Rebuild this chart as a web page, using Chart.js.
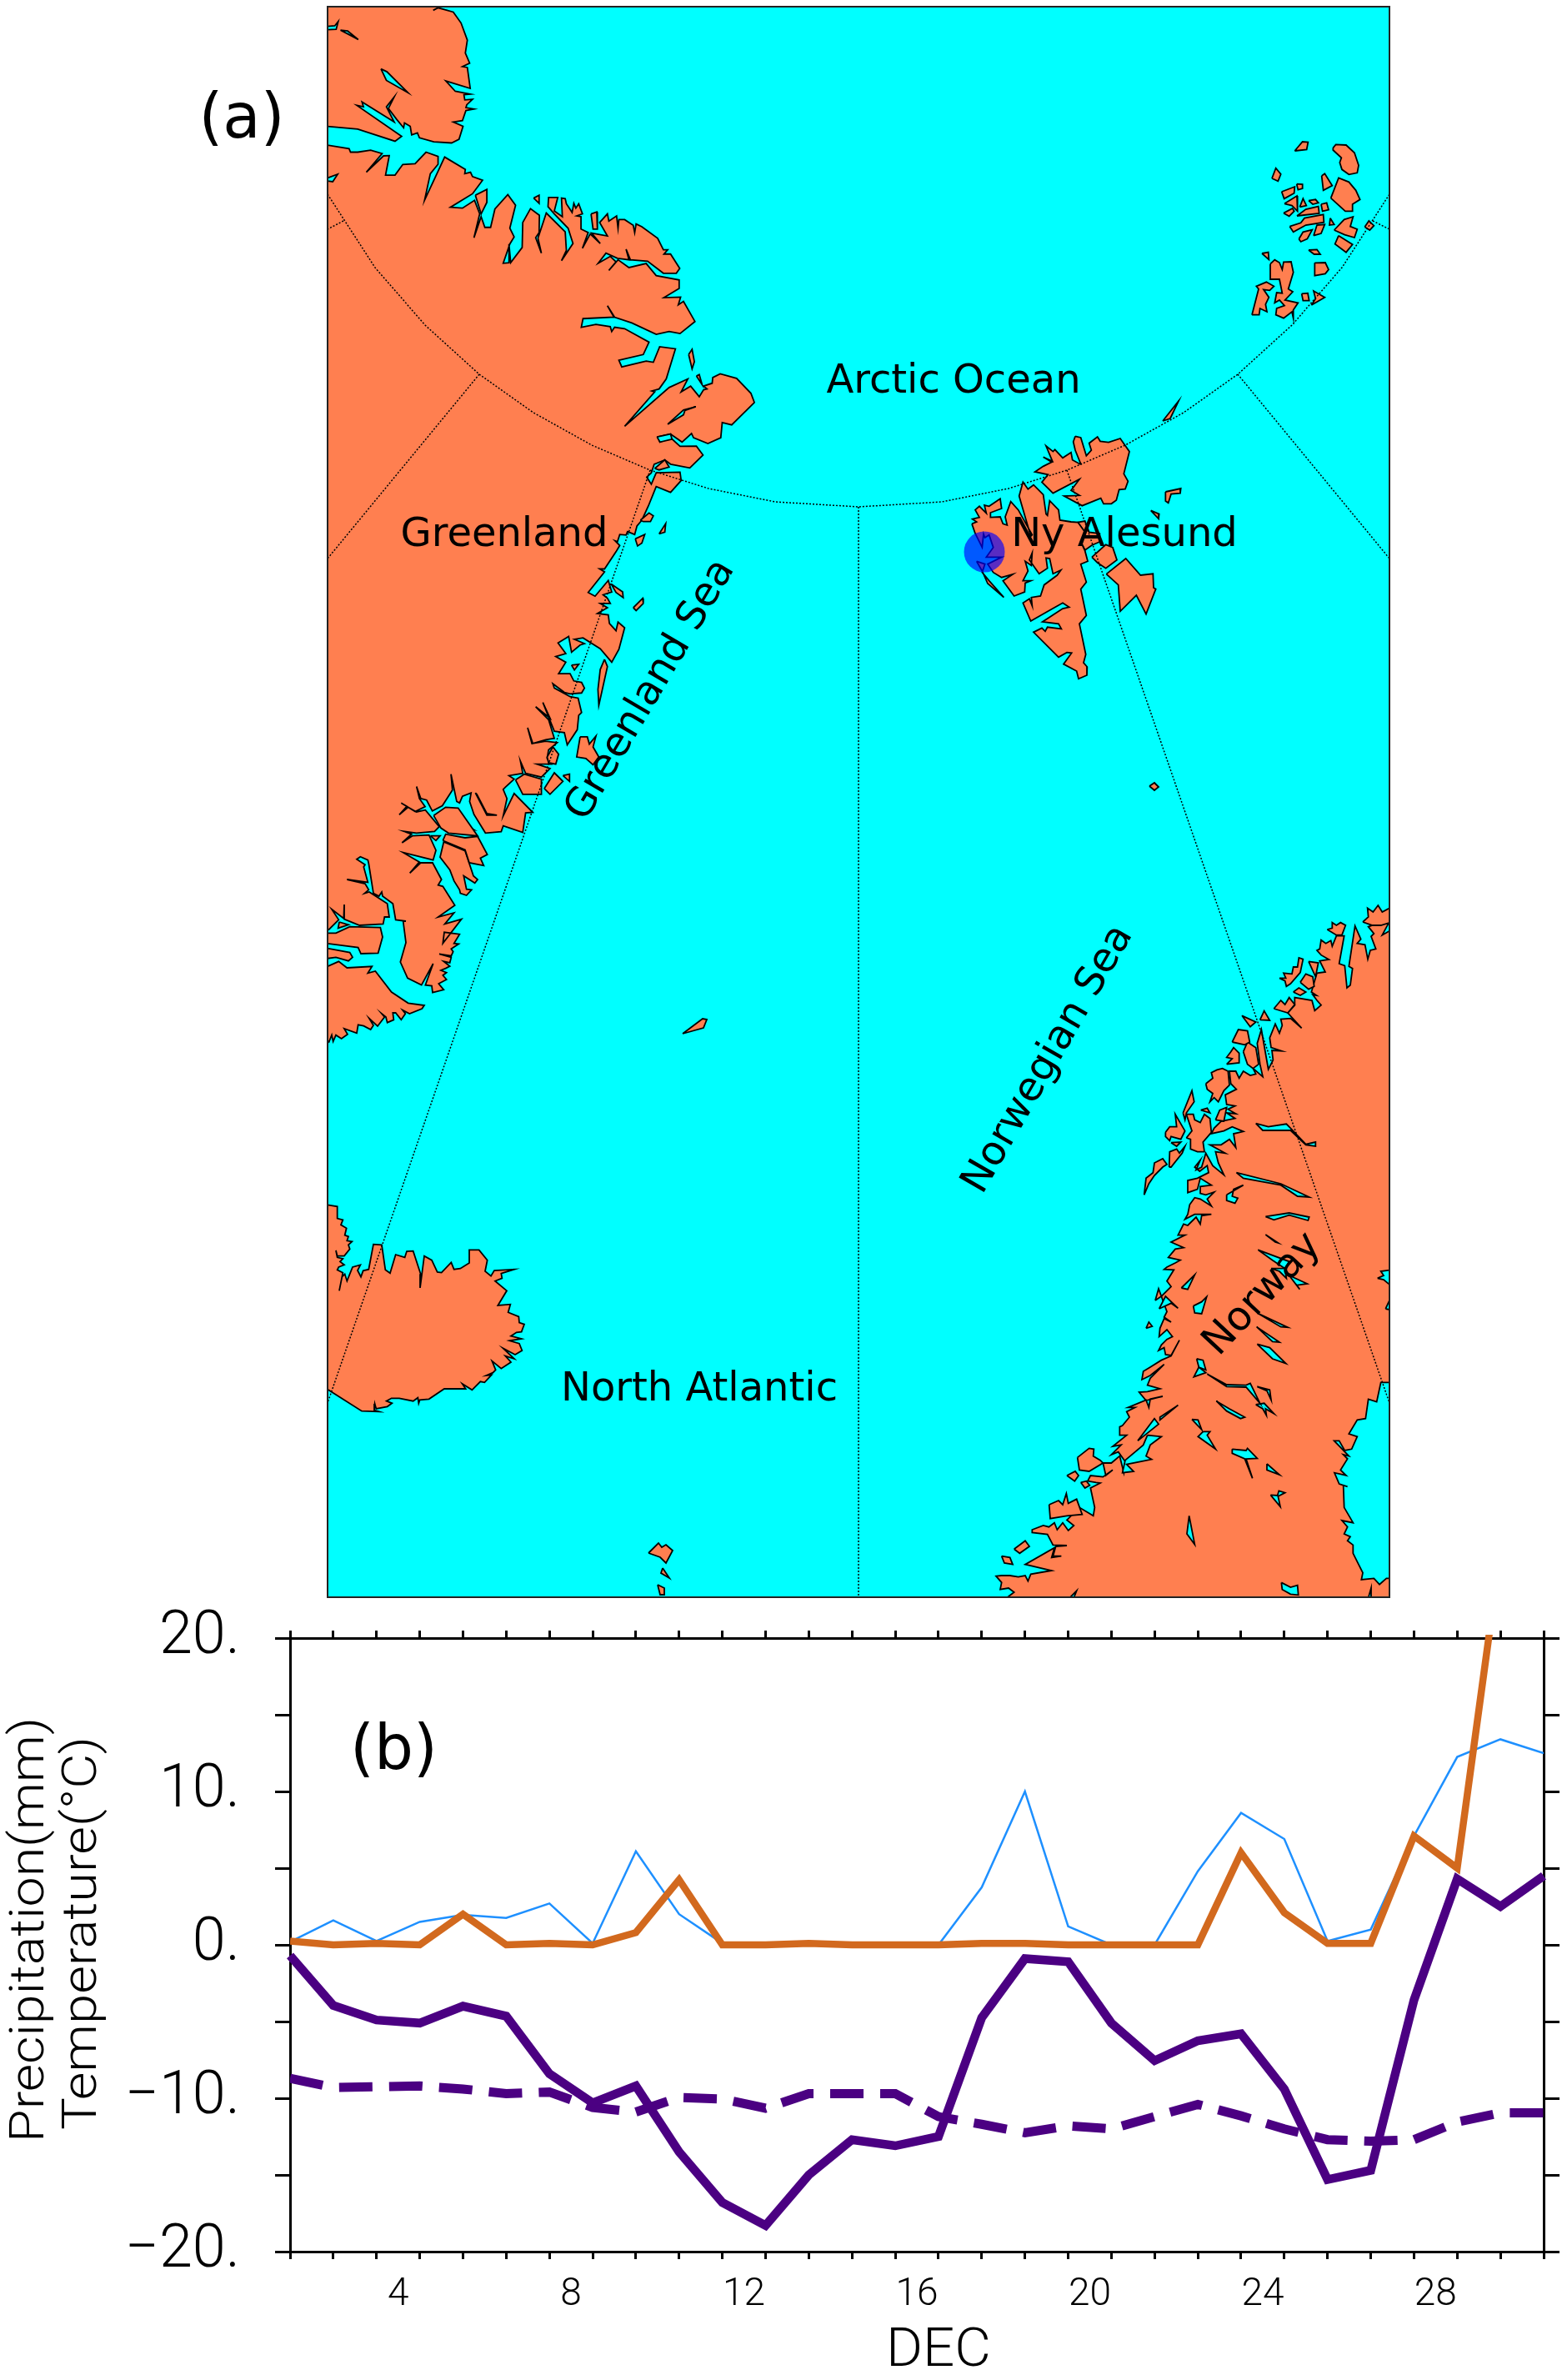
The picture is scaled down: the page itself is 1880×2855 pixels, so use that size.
<!DOCTYPE html>
<html>
<head>
<meta charset="utf-8">
<title>Ny Alesund map and December series</title>
<script src="https://cdn.jsdelivr.net/npm/chart.js@4/dist/chart.umd.min.js"></script>
<style>
  html, body { margin: 0; padding: 0; background: #fff; }
  canvas { position: absolute; left: 0; }
  #mapChart { top: 0; }
  #lineChart { top: 1930px; }
</style>
</head>
<body>
<canvas id="mapChart" width="1880" height="1930"></canvas>
<canvas id="lineChart" width="1880" height="925"></canvas>
<script>
// panel (b) values
const days = [1.5, 2.5, 3.5, 4.5, 5.5, 6.5, 7.5, 8.5, 9.5, 10.5, 11.5, 12.5, 13.5, 14.5, 15.5, 16.5, 17.5, 18.5, 19.5, 20.5, 21.5, 22.5, 23.5, 24.5, 25.5, 26.5, 27.5, 28.5, 29.5, 30.5];
const dayLabels = [4, 8, 12, 16, 20, 24, 28];
const yTicks = [-20, -15, -10, -5, 0, 5, 10, 15, 20];
const precipModel = [0.2, 1.6, 0.25, 1.5, 1.95, 1.75, 2.7, 0.1, 6.1, 2.0, 0.1, 0, 0, 0, 0, 0, 3.75, 10.0, 1.2, 0, 0, 4.8, 8.6, 6.9, 0.25, 1.0, 7.1, 12.25, 13.4, 12.5];
const precipObs = [0.25, 0, 0.1, 0, 2.0, 0, 0.1, 0, 0.8, 4.25, 0, 0, 0.1, 0, 0, 0, 0.1, 0.1, 0, 0, 0, 0, 6.0, 2.1, 0.1, 0.1, 7.1, 5.0, 25.6, 30];
const tempObs = [-0.7, -3.95, -4.9, -5.1, -4.0, -4.65, -8.4, -10.3, -9.2, -13.5, -16.8, -18.3, -15.0, -12.7, -13.1, -12.5, -4.75, -0.9, -1.1, -5.1, -7.55, -6.25, -5.8, -9.4, -15.3, -14.7, -3.6, 4.3, 2.5, 4.5];
const tempClim = [-8.7, -9.3, -9.25, -9.2, -9.4, -9.7, -9.6, -10.6, -10.9, -9.95, -10.05, -10.65, -9.7, -9.7, -9.7, -11.2, -11.7, -12.25, -11.8, -12.0, -11.2, -10.4, -11.15, -12.0, -12.7, -12.8, -12.7, -11.55, -10.95, -10.95];

function traced(ox, oy, k, flat) {
    const pts = [];
    for (let i = 0; i < flat.length; i += 2) pts.push({ x: ox + flat[i] / k, y: oy + flat[i + 1] / k });
    return pts;
}
const K = 2.904;

const greenlandNorth = traced(393, 0, K, [-5,-5,400,-5,385,27,368,36,385,27,438,42,465,80,487,140,480,185,495,220,470,232,487,235,497,308,412,282,445,318,497,328,475,330,478,348,505,346,485,365,482,375,510,380,482,385,470,420,438,425,472,440,458,485,432,498,370,494,320,480,313,463,293,470,288,440,268,428,265,445,240,415,212,378,232,338,205,372,232,425,120,355,125,372,102,367,258,475,235,492,105,450,-5,440]);
const greenlandMain = [
    ...traced(393, 0, K, [-5,505,75,518,80,530,105,530,150,523,190,535,135,600,195,543,215,542,202,610,235,610,262,573,305,570,343,530,385,545,385,572,358,605,338,697,408,547,480,590,478,605,498,600,505,615,540,628,505,675,428,722,470,725,512,698,530,745,510,828,535,755,548,792,568,792,583,728,628,678,655,715,635,795,650,825,635,850,612,917,632,915,632,850,638,915,678,862,680,775,707,727,738,750,737,810,725,828,745,882,733,830,762,742,828,808,832,872,815,908,855,848,838,795,790,745,768,720,770,688,802,688,790,735,818,755,815,690,828,692,832,710,852,740,858,708,865,725,875,710,888,745,868,752,883,755,883,798,908,810,888,865,915,815,950,848,920,812,975,822,948,775,975,745,980,770,1007,752,1012,795,1015,765,1035,765,1065,785,1070,810,1075,780,1095,790,1150,830,1170,870,1185,870,1172,885,1195,885,1227,935,1215,952,1170,952,1115,910,1055,905,1040,868,1050,905,1010,900,970,882,943,917,985,893,1005,912,980,942,1012,905,1050,932,1110,918,1145,960,1225,975,1225,1005,1172,1037,1230,1035,1222,1062,1240,1050,1280,1120,1228,1162,1190,1155,1145,1165,1060,1125,1000,1105,975,1065,998,1105,890,1110,884,1140,935,1130,985,1138,990,1155,1000,1140,1035,1145,1120,1192,1100,1235,1015,1255,1025,1278,1110,1258,1135,1262,1157,1208,1212,1215,1180,1320,1155,1355,1130,1362,1140,1365,1035,1485,1190,1350,1255,1320,1232,1365,1265,1345,1295,1382,1310,1358,1322,1355,1310,1345,1340,1335,1342,1315,1368,1302,1425,1318,1475,1370,1487,1402,1408,1480,1375,1472,1370,1525,1325,1545,1275,1525,1268,1510,1235,1540,1195,1512,1150,1522,1158,1540,1195,1525]),
    ...traced(393, 500, K, [1228,103,1285,102,1308,133,1262,178,1195,165,1175,150,1138,165,1128,195,1112,210,1128,235,1145,195,1228,193,1232,222,1195,263,1145,243,1118,310,1095,360,1078,380,1070,410,1045,400,1040,412,1018,410,1010,435,1002,432,1018,448,1005,470,965,530,948,530,965,540,908,612,932,625,978,570,990,610,960,620,975,632,985,650,950,650,975,665,940,685,978,690,982,720,1005,745,1012,715,1035,735,1015,810,990,855,950,808,890,770,860,775,895,790,880,795,850,820,840,765,803,788,830,825,795,835,830,855,805,895,845,895,858,920,885,925,895,945,885,962,845,965,825,960,785,930,790,945,845,975,873,980,885,1030,875,1040,870,1090,835,1143,825,1100,790,1095,750,995,775,1050,725,1010,770,1055,790,1120,760,1125,715,1138,697,1083,712,1138,760,1130,800,1135,770,1160,765,1190,780,1210,730,1210,775,1225,745,1255,690,1242,672,1200,680,1242,632,1250,650,1262,620,1290,612,1298,625,1330,612,1390,650,1312,715,1378,690,1380,680,1448,612,1425,605,1445,550,1450,510,1385,495,1340,500,1310,470,1322,460,1345,450,1340,430,1245,435,1300,400,1355,365,1373,345,1335,325,1330,310,1288,320,1330,340,1358,305,1375]),
    ...traced(393, 960, 3, [265,10,285,22,258,52,290,25,320,42,352,35,402,95,385,112,320,118,275,112,302,122,268,153,305,128,365,125,390,180,380,215,272,188,330,222,296,262,335,225,378,225,410,285,398,305,415,310,458,378,398,420,455,405,422,445,482,428,415,515,420,475,475,482,455,515,472,517,445,535,452,545,445,560,402,553,445,565,440,585,418,580,440,597,425,605,408,612,428,620,415,630,428,645,400,660,418,682,378,692,375,668,352,665,380,588,338,665,288,640,262,582,282,512,272,435,282,435,245,430,235,372,198,345,195,330,185,345,165,335,148,228,145,215,118,203,105,212,135,232,130,240,145,295,70,285,135,300,148,322,133,335,150,330,215,372,222,420,205,420,200,445,115,450,60,428,60,375,58,425,15,392,40,430,5,465,-5,470])
];
const greenlandSouth1 = traced(393, 960, 3, [-5,478,30,478,80,455,190,458,198,492,182,550,120,552,110,530,-5,515]);
const greenlandSouth2 = traced(393, 960, 3, [-5,532,80,548,90,565,75,578,30,565,-5,570]);
const greenlandSouth3 = traced(393, 960, 3, [-5,600,40,580,70,603,160,598,145,622,172,615,230,690,290,730,348,738,340,750,295,768,270,755,280,768,265,790,245,765,235,765,238,790,215,800,210,780,195,768,205,780,180,813,150,785,165,810,155,825,130,812,110,808,105,838,60,822,72,842,50,858,30,845,20,868,15,845,5,870,-5,860]);
const greenlandIslands = [
    traced(393, 0, K, [515,680,555,660,555,705,535,745]),
    traced(393, 0, K, [1258,1235,1270,1217,1278,1260,1270,1285]),
    traced(393, 0, K, [1285,1310,1295,1305,1305,1340]),
    traced(393, 0, K, [718,690,737,680,737,708]),
    traced(393, 0, K, [918,745,938,738,940,798,925,798]),
    traced(393, 500, K, [1155,408,1178,372,1175,402]),
    traced(393, 500, K, [1072,425,1105,410,1095,440,1080,450]),
    traced(393, 500, K, [1090,360,1120,335,1135,345,1125,365,1100,365]),
    traced(393, 500, K, [1065,665,1098,632,1100,650,1075,675]),
    traced(393, 500, K, [988,582,1028,610,1030,630,1005,612]),
    traced(393, 500, K, [965,845,975,870,945,1005,942,950,950,880]),
    traced(393, 500, K, [880,1115,905,1115,912,1140,935,1112,925,1150,945,1185,925,1212,900,1190,868,1185]),
    traced(393, 500, K, [785,1150,805,1175,795,1210,770,1205,765,1185]),
    traced(393, 500, K, [755,1295,790,1240,820,1270,775,1315]),
    traced(393, 500, K, [820,1250,843,1245,843,1270]),
    traced(393, 500, K, [655,1265,685,1245,745,1262,745,1315,680,1315]),
    traced(393, 500, K, [1140,180,1175,150,1190,175,1155,185]),
    traced(393, 500, K, [850,865,875,862,860,882]),
    traced(393, 960, 3, [382,55,425,25,470,28,540,128,435,118,408,100]),
    traced(393, 960, 3, [370,128,405,128,390,145]),
    traced(393, 960, 3, [415,145,425,122,495,135,540,130,575,195,550,208,562,235,510,225,495,178]),
    traced(393, 960, 3, [418,150,495,182,525,272,540,285,530,298,490,272,500,320,518,322,500,342,478,335,475,322,455,290,440,250,405,205]),
    traced(393, 960, 3, [42,438,75,448,38,460])
];
const greenlandWater = [
    traced(393, 0, K, [-5,92,25,90,37,75,30,102,-5,104]),
    traced(393, 0, K, [45,105,70,108,107,138,70,118]),
    traced(393, 0, K, [186,240,207,250,280,323,205,280]),
    traced(393, 0, K, [-5,622,35,607,18,633,-5,630]),
    traced(393, 0, K, [1185,1478,1240,1428,1283,1417,1245,1430,1240,1445]),
    traced(393, 0, K, [1148,1522,1195,1512,1200,1530,1158,1540]),
    traced(393, 500, K, [515,1310,555,1388,590,1388,555,1382,520,1315]),
    traced(393, 960, 3, [440,55,525,105,500,100])
];
const iceland = traced(393, 1430, 3, [-5,45,35,52,35,95,55,100,48,118,68,130,62,155,75,160,70,175,88,178,75,190,80,205,60,230,35,230,30,210,35,235,55,240,45,250,60,262,40,270,35,280,55,290,42,355,52,305,62,295,70,320,90,270,118,262,108,282,120,305,128,283,148,278,165,188,195,190,208,280,225,292,245,225,278,235,285,213,308,212,335,295,333,345,348,230,375,245,395,288,410,290,445,253,455,278,478,275,510,255,510,208,545,208,575,245,567,285,588,302,600,282,672,278,625,293,628,310,603,320,645,355,613,408,658,404,650,433,688,448,690,470,708,476,698,503,680,505,660,518,698,528,655,535,690,545,700,570,675,585,632,562,672,600,640,590,660,612,625,635,592,608,605,640,595,650,572,660,590,658,565,685,550,682,520,712,485,690,497,708,420,708,365,745,332,748,328,760,325,740,308,752,258,742,230,742,212,752,232,760,215,772,175,780,170,762,168,785,185,790,123,788,0,710,-5,710]);
const svalbard = [
    traced(1120, 500, 3, [138,385,155,378,140,368,165,362,150,335,165,322,190,347,183,318,200,322,240,295,245,330,205,345,205,362,240,360,250,385,265,390,258,360,278,305,305,335,355,425,350,430,308,285,322,235,340,260,360,245,395,280,405,350,410,355,418,302,450,335,455,372,495,378,520,380,545,415,530,450,545,482,555,520,530,530,550,595,530,620,550,715,525,745,548,855,540,885,553,900,552,930,522,943,515,915,468,890,497,850,480,848,450,865,360,775,390,760,402,772,410,757,460,763,450,745,392,738,465,690,488,685,465,670,425,692,350,735,322,670,345,655,355,680,352,650,385,645,398,605,445,570,458,552,430,565,418,510,405,508,410,545,380,565,345,515,355,490,352,535,330,520,340,555,322,590,350,590,330,598,328,630,290,645,250,590,285,567,245,578,215,560,195,530,245,505,190,505,215,470,200,425,185,435,180,422,175,470,150,420]),
    traced(1120, 500, 3, [510,70,530,75,550,140,568,120,560,95,590,72,600,88,630,92,672,78,705,125,685,205,700,232,690,260,668,262,658,300,640,313,612,313,602,293,535,320,470,285,525,283,495,265,525,225,430,275,390,235,412,208,365,198,395,178,425,163,395,145,428,160,405,105,430,125,437,118,465,148,495,128,500,155,527,170,530,170,510,120,503,90]),
    traced(1120, 500, 3, [155,520,185,530,175,560,200,590,253,650,195,600,175,555]),
    traced(1120, 500, 3, [518,380,545,375,560,415,598,420,598,450,570,462,545,480,530,450,545,415]),
    traced(1120, 500, 3, [622,566,692,510,745,570,790,565,792,615,800,620,765,710,730,642,672,700,665,605]),
    traced(1120, 500, 3, [570,505,620,460,645,470,660,515,620,545,590,525]),
    traced(1120, 500, 3, [835,270,890,258,888,275,855,278,845,310,835,303]),
    traced(1120, 500, 3, [782,337,812,350,810,367]),
    traced(0, 0, 1, [1395,505,1414,481,1404,502]),
    traced(0, 0, 1, [1379,943,1385,939,1390,944,1385,948])
];
const franzJosef = [
    [250,93,278,60,298,62,293,88],
    [388,82,398,70,435,72,465,100,480,145,475,172,445,178,420,160,412,135,418,118,388,90],
    [168,192,182,155,200,177,190,202],
    [347,183,358,175,385,218,353,235],
    [380,263,408,190,445,205,470,235,485,268,458,285,458,310,432,310],
    [257,212,278,213,278,228,262,233],
    [203,240,250,222,248,245,212,265],
    [213,283,258,255,260,310,240,290],
    [268,295,280,265,292,290],
    [300,272,325,268,335,280,315,285],
    [345,285,365,280,372,305,350,310],
    [258,327,290,303,335,293,338,318],
    [210,317,242,300,248,310,230,328],
    [232,365,272,352,285,335,353,322,355,350,290,360,245,385],
    [378,335,392,358,375,360],
    [265,410,280,385,313,377,295,410,272,420],
    [318,398,330,360,358,358,345,390],
    [392,378,428,340,460,330,450,365,475,375,465,405,430,395],
    [408,398,458,430,435,458,395,428],
    [502,367,517,345,535,362,520,378],
    [300,450,330,448,342,465,320,465],
    [132,462,155,458,157,484],
    [322,496,360,495,372,520,360,535,322,542],
    [275,607,297,605,302,632,280,632],
    [310,648,325,625,318,597,358,620],
    [162,500,178,485,195,495,205,520,210,493,237,492,245,530,227,590,243,600,215,630,262,640,245,665,245,695,240,672,210,695,182,683,185,660,213,650,195,630,178,640,185,603,205,605,195,555,162,555],
    [96,683,120,590,112,580,148,565,175,580,160,595,138,592,157,620,145,645,150,672,125,660,122,683]
].map(p => traced(1470, 150, 3, p));
const otherIslands = [
    traced(0, 0, 1, [819,1240,843,1222,848,1223,844,1233]),
    traced(0, 0, 1, [778,1863,790,1851,794,1856,799,1853,807,1860,799,1875,792,1868]),
    traced(0, 0, 1, [795,1881,803,1893,793,1887]),
    traced(0, 0, 1, [789,1901,797,1905,797,1913,792,1913])
];
const norwayMain = [
    ...traced(1340, 1080, 3, [990,105,955,125,978,82,920,90,905,95,925,120,915,130,932,175,912,180,903,212,893,160,865,155,878,140,857,92,835,238,848,245,840,305,828,315,820,235,800,228,818,128,790,128,775,165,770,145,752,155,735,143,730,175,720,180,735,197,763,213,730,218,750,258,720,262,700,330,718,342,705,340,720,360,735,377,712,397,702,360,640,350,640,378,615,405,665,460,625,425,590,428,595,450,585,478,570,445,550,495,555,530,592,542,558,540,562,575,545,608,520,465,505,515,515,590,525,635,490,605,500,625,480,630,455,615,440,640,428,615,405,615,410,660,430,680,390,700,395,735,425,740,400,752,428,768,395,765,425,785,375,795,350,820,340,840,385,830,415,815,455,832,420,840,428,890,405,860,375,880,335,880,390,910,355,905,365,945,385,988,345,955,320,910,305,960,285,970,300,935,280,960,298,975,325,955,330,980,290,1000,255,1008,255,1052,290,1040,300,1000,340,1025,300,1030,300,1055,320,1060,350,1050,325,1075,340,1100,300,1075,280,1070,262,1095,255,1130,245,1148,280,1130,340,1130,305,1135,300,1165,285,1140,255,1170,240,1165,225,1195]),
    ...traced(1180, 1480, 3, [700,5,725,5,675,30,720,50,690,55,665,85,708,95,690,105,660,120,650,128,685,130,660,170,675,190,640,225,660,280,650,300,675,318,650,305,635,340,632,370,660,345,680,370,660,380,640,400,630,420,650,410,655,435,675,438,705,383,675,440,640,455,600,480,575,495,570,525,600,510,650,470,600,520,590,545,635,558,590,568,560,570,585,600,645,585,600,595,595,625,585,598,520,625,545,625,515,640,525,660,500,690,490,695,490,725,515,725,465,765,495,760,460,795,485,785,510,820,505,860,490,800,460,825,430,825,440,870,465,850,430,875,385,870,375,890,405,895,420,897,385,915,400,985,395,1015,345,985,300,1030,325,1050,305,1068,285,1040,265,1065,255,1040,235,1055,215,1050,175,1065,175,1075,230,1082,250,1120,300,1122,260,1125,250,1160,280,1160,245,1165,255,1130,150,1190,245,1212,170,1225,160,1250,150,1230,125,1235,95,1230,65,1230,45,1232,65,1255,60,1280,90,1275,110,1290,90,1305,115,1315,1470,1315,1470,1240,1450,1240,1425,1262,1405,1240,1360,1245,1365,1220,1345,1180,1330,1150,1330,1120,1310,1105,1320,1090,1298,1080,1310,1055,1290,1032,1330,1040,1298,985,1295,905,1310,910,1280,900,1263,860,1305,870,1285,850,1310,810,1295,795,1315,800,1262,745,1280,745,1300,780,1325,775,1345,730,1315,720,1345,670,1375,665,1385,595,1415,605,1430,535,1470,535])
];
const norwayIslands = [
    [885,78,905,60,902,28,922,42,940,18,955,42,978,30,990,30,990,78,950,90,920,90,905,85],
    [98,1060,105,1000,130,980,135,945,165,930,180,950,165,960,135,990,115,1020],
    [188,960,190,905,215,895,225,910,245,885,235,910,195,960],
    [175,835,190,815,215,815,210,770,245,830,230,860,195,850,190,865,175,850],
    [238,765,270,685,278,725,250,765,245,790],
    [250,855,270,830,250,770,275,770,280,790,300,800,315,770,335,785,340,835,310,870,315,905,290,905,265,895,265,860],
    [195,872,230,870,215,885],
    [302,755,325,748,335,765],
    [320,660,345,640,340,620,360,610,380,605,400,615,405,665,385,685,365,725,350,710,335,725,345,695,325,680],
    [355,790,370,755,395,745,385,795],
    [395,590,415,570,395,565,410,545,420,530,440,550,440,585],
    [415,510,437,465,470,470,478,510,460,520],
    [455,545,470,510,500,530,510,590,490,605,470,590],
    [450,415,500,438,480,455],
    [515,430,530,398,550,432],
    [565,390,590,360,605,375,620,350,640,375,615,405],
    [585,280,608,280,600,262,630,265,635,240,650,240,655,207,670,212,660,260,625,300,610,310,605,290],
    [660,295,680,265,705,275,710,310,690,320],
    [635,330,655,315,680,330,660,342],
    [690,220,725,225,715,275],
    [757,105,775,100,775,80,790,90,805,80,823,90,810,125,790,125]
].map(p => traced(1340, 1080, 3, p)).concat([
    [338,805,380,772,397,775,395,800,420,815,430,825,380,855,345,850],
    [300,870,330,855,342,870,328,890],
    [350,895,370,890,382,905,365,915],
    [236,975,270,960,285,975,298,935,305,970,335,955,355,1010,300,1015,240,1025],
    [65,1160,95,1165,105,1190,75,1185],
    [110,1135,150,1105,165,1125,130,1150],
    [585,340,595,318,607,333],
    [618,240,630,198,640,225]
].map(p => traced(1180, 1480, 3, p)));
const norwayWater = [
    [500,803,545,815,610,805,625,820,680,878,715,870,715,885,680,880,625,828,525,828],
    [430,980,590,1020,692,1068,650,1065,590,1025,455,1000],
    [395,1060,455,1025,420,1040,415,1065,435,1072,425,1090,395,1080],
    [535,1138,620,1125,692,1140,688,1152,620,1133,565,1150]
].map(p => traced(1340, 1080, 3, p)).concat([
    [988,58,1100,100,1085,125,1040,95],
    [1035,125,1085,125,1090,160,1065,135],
    [1100,150,1165,180,1128,185,1138,200],
    [1015,3,1060,33,1050,30],
    [985,285,1095,337,1070,335],
    [983,335,1065,390,1040,388],
    [985,397,1030,410,1088,467,1040,450],
    [767,450,790,455,800,490,775,480],
    [775,480,800,500,757,515],
    [805,505,875,543,945,545,960,538,995,610,945,552,875,550],
    [985,550,1030,562,1035,598,1020,565],
    [980,615,1010,610,1045,647,1015,630,1018,653,1005,630],
    [838,602,885,630,940,660,925,665,875,638],
    [700,617,635,670,635,660],
    [750,668,772,670,785,705],
    [790,712,815,712,805,725,835,775,772,730],
    [895,775,945,780,950,772,985,808,945,810,968,880,940,810,895,790],
    [1020,828,1065,867,1020,850],
    [1033,940,1058,942,1063,925,1085,932,1060,945,1068,982],
    [740,1015,760,1118,732,1080],
    [755,260,785,245,803,227,785,288,760,285],
    [712,195,760,148,735,200],
    [632,270,655,225,700,268,675,250],
    [555,745,615,665,630,685],
    [590,725,640,730,600,760,585,800,605,812,515,830,540,855,500,860,510,815,575,760],
    [1072,1255,1105,1272,1130,1265,1133,1300,1105,1297,1075,1280],
    [1385,1310,1395,1275,1395,1310],
    [310,1310,335,1285,325,1310],
    [1418,160,1440,150,1430,135,1470,130,1470,190,1440,165],
    [1447,270,1470,220,1470,275]
].map(p => traced(1180, 1480, 3, p)));

// graticule
const parallelLine = traced(0, 0, 1, [393,233,450,321,510,390,575,449,640,495,710,534,780,564,850,586,930,602,1030,608,1130,602,1210,586,1280,564,1350,534,1420,495,1485,449,1550,390,1610,321,1667,233]);
const meridians = [
    traced(0, 0, 1, [1030,608,1030,1916]),
    traced(0, 0, 1, [780,564,393,1683]),
    traced(0, 0, 1, [1280,564,1667,1683]),
    traced(0, 0, 1, [575,449,393,670]),
    traced(0, 0, 1, [1485,449,1667,670]),
    traced(0, 0, 1, [412,265,393,275]),
    traced(0, 0, 1, [1647,265,1667,275])
];
const station = [{ x: 1181, y: 662, r: 24.5 }];
const placeNames = [
    { text: 'Arctic Ocean', x: 1144, y: 459, rot: 0 },
    { text: 'Greenland', x: 605, y: 643, rot: 0 },
    { text: 'Ny Alesund', x: 1349, y: 643, rot: 0 },
    { text: 'Greenland Sea', x: 781, y: 828, rot: -59.5 },
    { text: 'Norwegian Sea', x: 1258, y: 1271, rot: -60 },
    { text: 'Norway', x: 1515, y: 1553, rot: -47 },
    { text: 'North Atlantic', x: 839, y: 1668, rot: 0 }
];

const LAND = '#ff7f50';
const SEA = '#00ffff';

function poly(points, fillColor, order) {
    return {
        data: points.concat([points[0]]),
        backgroundColor: fillColor,
        borderColor: '#000',
        borderWidth: 1.8,
        borderJoinStyle: 'miter',
        fill: 'shape',
        pointRadius: 0,
        tension: 0,
        clip: 0,
        order: order
    };
}

function dotted(points) {
    return {
        data: points,
        borderColor: '#000',
        borderWidth: 1.5,
        borderDash: [2, 2],
        fill: false,
        pointRadius: 0,
        tension: 0,
        clip: 0,
        order: 10
    };
}

const mapDatasets = [
    poly(greenlandNorth, LAND, 40),
    poly(greenlandMain, LAND, 40),
    poly(greenlandSouth1, LAND, 40),
    poly(greenlandSouth2, LAND, 40),
    poly(greenlandSouth3, LAND, 40),
    poly(iceland, LAND, 40),
    poly(norwayMain, LAND, 40)
];
greenlandWater.concat(norwayWater).forEach(p => mapDatasets.push(poly(p, SEA, 30)));
greenlandIslands.concat(svalbard, franzJosef, otherIslands, norwayIslands).forEach(p => mapDatasets.push(poly(p, LAND, 20)));
mapDatasets.push(dotted(parallelLine));
meridians.forEach(p => mapDatasets.push(dotted(p)));
mapDatasets.push({
    type: 'bubble',
    data: station,
    backgroundColor: 'rgba(0, 0, 255, 0.65)',
    borderColor: 'rgba(0, 0, 255, 0.65)',
    borderWidth: 0,
    clip: 0,
    order: 5
});

const mapPlugin = {
    id: 'mapPlugin',
    beforeDatasetsDraw(chart) {
        const { ctx, chartArea: a } = chart;
        ctx.save();
        ctx.fillStyle = SEA;
        ctx.fillRect(a.left, a.top, a.right - a.left, a.bottom - a.top);
        ctx.restore();
    },
    afterDatasetsDraw(chart) {
        const { ctx, chartArea: a, scales } = chart;
        ctx.save();
        ctx.strokeStyle = '#222';
        ctx.lineWidth = 2;
        ctx.strokeRect(a.left, a.top, a.right - a.left, a.bottom - a.top);
        ctx.fillStyle = '#000';
        ctx.textAlign = 'center';
        ctx.textBaseline = 'middle';
        placeNames.forEach(n => {
            ctx.save();
            ctx.translate(scales.x.getPixelForValue(n.x), scales.y.getPixelForValue(n.y));
            ctx.rotate(n.rot * Math.PI / 180);
            ctx.font = '48px "DejaVu Sans"';
            ctx.fillText(n.text, 0, 0);
            ctx.restore();
        });
        ctx.font = '74px "DejaVu Sans"';
        ctx.fillText('(a)', 290, 146);
        ctx.restore();
    }
};

new Chart(document.getElementById('mapChart'), {
    type: 'line',
    data: { datasets: mapDatasets },
    options: {
        responsive: false,
        animation: false,
        devicePixelRatio: 1,
        layout: { autoPadding: false, padding: { left: 393, right: 213, top: 8, bottom: 14 } },
        plugins: { legend: { display: false }, tooltip: { enabled: false } },
        scales: {
            x: { type: 'linear', min: 393, max: 1667, display: false },
            y: { type: 'linear', min: 8, max: 1916, reverse: true, display: false }
        }
    },
    plugins: [mapPlugin]
});

function series(values) {
    return days.map((d, i) => ({ x: d, y: values[i] }));
}

// tall, wide-spaced plot lettering: stretched to the width it has in the picture
function stretched(ctx, text, x, y, font, width, rot) {
    ctx.save();
    ctx.translate(x, y);
    ctx.rotate(rot);
    ctx.font = font;
    ctx.scale(width / ctx.measureText(text).width, 1);
    ctx.fillText(text, 0, 0);
    ctx.restore();
}

const panelText = {
    id: 'panelText',
    afterDraw(chart) {
        const { ctx, scales } = chart;
        ctx.save();
        ctx.fillStyle = '#000';
        ctx.textAlign = 'center';
        ctx.textBaseline = 'middle';
        ctx.font = '74px "DejaVu Sans"';
        ctx.fillText('(b)', scales.x.getPixelForValue(3.9), scales.y.getPixelForValue(12.5));
        const thin = '300 58px Roboto';
        stretched(ctx, 'Precipitation(mm)', 37, 385, thin, 510, -Math.PI / 2);
        stretched(ctx, 'Temperature(°C)', 100, 389, thin, 472, -Math.PI / 2);
        stretched(ctx, 'DEC', scales.x.getPixelForValue(16.5), 892, '300 64px Roboto', 126, 0);
        ctx.restore();
    }
};

const fixedSize = (size) => (scale) => {
    if (scale.isHorizontal()) scale.height = size; else scale.width = size;
    scale.paddingTop = scale.paddingBottom = scale.paddingLeft = scale.paddingRight = 0;
};
const dayTicks = (axis) => { axis.ticks = days.map(v => ({ value: v })); };
const valueTicks = (axis) => { axis.ticks = yTicks.map(v => ({ value: v })); };
const tickGrid = (len) => ({ drawOnChartArea: false, tickLength: len, color: '#000', lineWidth: 3 });
const axisBorder = { display: true, color: '#000', width: 3 };

new Chart(document.getElementById('lineChart'), {
    type: 'line',
    data: {
        datasets: [
            { label: 'Precipitation', data: series(precipObs), borderColor: '#d2691e', borderWidth: 8.5, pointRadius: 0, tension: 0, borderJoinStyle: 'miter', order: 1, clip: { left: 0, top: 4, right: 0, bottom: 0 } },
            { label: 'Temperature', data: series(tempObs), borderColor: '#4b0082', borderWidth: 10.5, pointRadius: 0, tension: 0, borderJoinStyle: 'miter', order: 2, clip: 6 },
            { label: 'Temperature climatology', data: series(tempClim), borderColor: '#4b0082', borderWidth: 11, borderDash: [40, 20], pointRadius: 0, tension: 0, order: 3, clip: 0 },
            { label: 'Precipitation model', data: series(precipModel), borderColor: '#1e90ff', borderWidth: 2.5, pointRadius: 0, tension: 0, order: 4, clip: 0 }
        ]
    },
    options: {
        responsive: false,
        animation: false,
        devicePixelRatio: 1,
        layout: { autoPadding: false, padding: 0 },
        plugins: { legend: { display: false }, tooltip: { enabled: false } },
        scales: {
            x: {
                type: 'linear', position: 'bottom', min: 1.5, max: 30.5, weight: 0,
                afterBuildTicks: dayTicks, afterFit: fixedSize(10),
                ticks: { display: false }, grid: tickGrid(9), border: axisBorder
            },
            xDates: {
                type: 'linear', axis: 'x', position: 'bottom', min: 1.5, max: 30.5, weight: 1,
                afterBuildTicks: (axis) => { axis.ticks = dayLabels.map(v => ({ value: v })); },
                afterFit: fixedSize(144),
                ticks: { autoSkip: false, maxRotation: 0, padding: 7, color: '#000', font: { family: 'Roboto', weight: '300', size: 46 } },
                grid: { display: false }, border: { display: false }
            },
            xTop: {
                type: 'linear', axis: 'x', position: 'top', min: 1.5, max: 30.5,
                afterBuildTicks: dayTicks, afterFit: fixedSize(35),
                ticks: { display: false }, grid: tickGrid(9), border: axisBorder
            },
            y: {
                type: 'linear', position: 'left', min: -20, max: 20,
                afterBuildTicks: valueTicks, afterFit: fixedSize(348),
                ticks: {
                    padding: 42, autoSkip: false, color: '#000',
                    font: { family: 'Roboto', weight: '300', size: 72 },
                    callback: (v) => (v % 10 === 0 ? String(v).replace('-', '\u2212') + '.' : '')
                },
                grid: tickGrid(18), border: axisBorder
            },
            yRight: {
                type: 'linear', position: 'right', min: -20, max: 20,
                afterBuildTicks: valueTicks, afterFit: fixedSize(28),
                ticks: { display: false }, grid: tickGrid(19), border: axisBorder
            }
        }
    },
    plugins: [panelText]
});
</script>
</body>
</html>
